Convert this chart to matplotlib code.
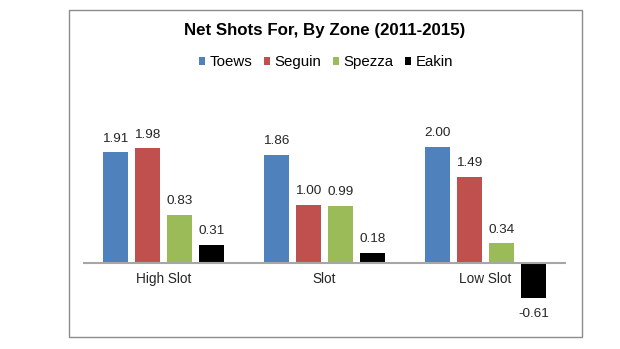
import numpy as np
import matplotlib.pyplot as plt
from matplotlib.patches import Rectangle

plt.rcParams['font.family'] = ['Liberation Sans', 'DejaVu Sans']

zones = ["High Slot", "Slot", "Low Slot"]
players = ["Toews", "Seguin", "Spezza", "Eakin"]
toews = [1.91, 1.86, 2.00]
seguin = [1.98, 1.00, 1.49]
spezza = [0.83, 0.99, 0.34]
eakin = [0.31, 0.18, -0.61]
colors = ["#4F81BD", "#C0504D", "#9BBB59", "#000000"]

W, H = 620, 349
fig = plt.figure(figsize=(W / 100, H / 100), dpi=100)

# chart border
fig.patches.append(Rectangle((69 / W, 1 - 337 / H), (582 - 69) / W, (337 - 10) / H,
                             transform=fig.transFigure, fill=False,
                             edgecolor="#8C8C8C", lw=1.0))

ax = fig.add_axes([83 / W, 1 - 320 / H, (566 - 83) / W, (320 - 80) / H])
ax.set_xlim(-0.5, 2.5)
ax.set_ylim(-(320 - 263) / 58, (263 - 80) / 58)
ax.axis("off")

x = np.arange(len(zones))
step = 32 / 161
width = 25 / 161
series = [toews, seguin, spezza, eakin]
handles = []
for k, (vals, name, c) in enumerate(zip(series, players, colors)):
    pos = x + (k - 1.5) * step
    b = ax.bar(pos, vals, width, color=c, label=name, zorder=2)
    handles.append(b)
    for p, v in zip(pos, vals):
        if v >= 0:
            ax.annotate(f"{v:.2f}", (p, v), xytext=(0, 5.5), textcoords="offset points",
                        ha="center", va="bottom", fontsize=9.7, color="#262626")
        else:
            ax.annotate(f"{v:.2f}", (p, v), xytext=(0, -7), textcoords="offset points",
                        ha="center", va="top", fontsize=9.7, color="#262626")

ax.axhline(0, color="#A6A6A6", lw=1.5, zorder=3)

for i, z in enumerate(zones):
    ax.annotate(z, (i, 0), xytext=(0, -11.5), textcoords="offset points",
                ha="center", va="center", fontsize=9.8, color="#262626")

fig.text(324.5 / W, 1 - 31 / H, "Net Shots For, By Zone (2011-2015)",
         ha="center", va="center", fontsize=12.2, fontweight="bold")

fig.legend(handles=handles, labels=players, loc="center", ncol=4,
           bbox_to_anchor=(326 / W, 1 - 62 / H), frameon=False, fontsize=10.8,
           handlelength=0.42, handleheight=0.42, handletextpad=0.3,
           columnspacing=0.75, borderaxespad=0)

fig.savefig("out.png", dpi=100)
